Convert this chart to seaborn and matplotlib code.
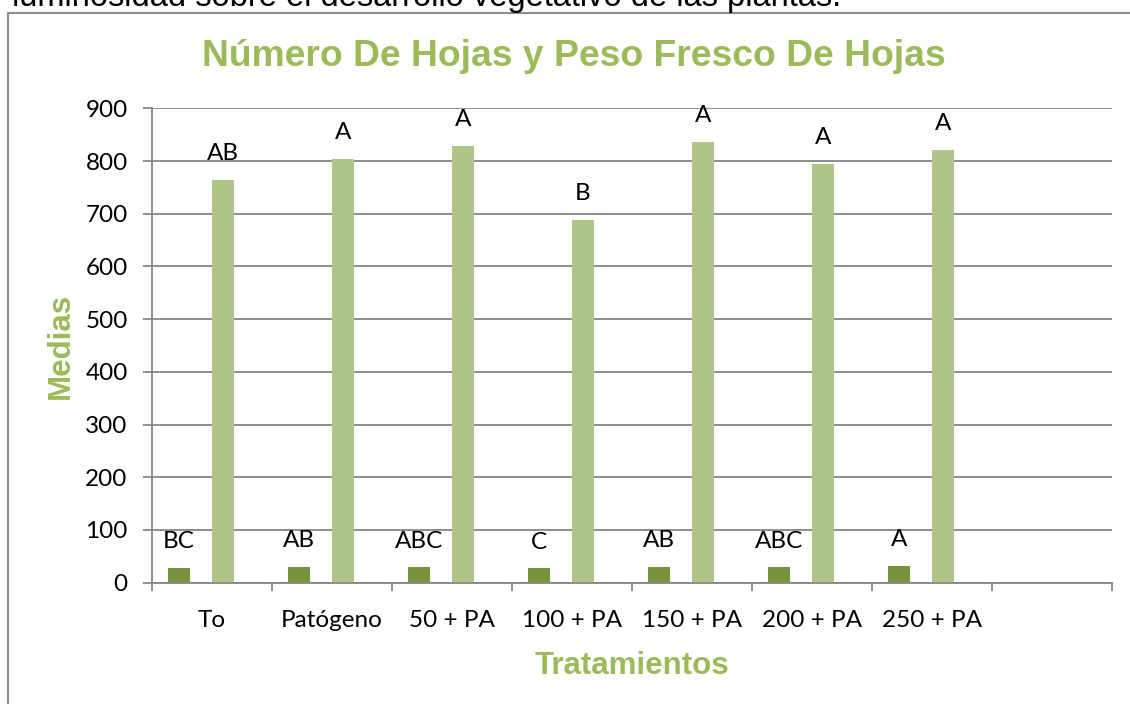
import numpy as np
import pandas as pd
import matplotlib
matplotlib.use("Agg")
import matplotlib.pyplot as plt
import seaborn as sns

# Datos
tratamientos = ["To", "Patógeno", "50 + PA", "100 + PA", "150 + PA", "200 + PA", "250 + PA"]
numero_hojas = [28, 30, 29, 27, 30, 29, 31]
peso_fresco = [764, 804, 829, 688, 837, 795, 821]
letras_hojas = ["BC", "AB", "ABC", "C", "AB", "ABC", "A"]
letras_peso = ["AB", "A", "A", "B", "A", "A", "A"]

# series vacias que en el original ocupan hueco dentro de cada grupo
series = ["Número de hojas", "vacia1", "Peso fresco", "vacia2"]

df = pd.concat([
    pd.DataFrame({"Tratamiento": tratamientos, "Serie": series[0], "Valor": numero_hojas}),
    pd.DataFrame({"Tratamiento": tratamientos, "Serie": series[1], "Valor": np.nan}),
    pd.DataFrame({"Tratamiento": tratamientos, "Serie": series[2], "Valor": peso_fresco}),
    pd.DataFrame({"Tratamiento": tratamientos, "Serie": series[3], "Valor": np.nan}),
], ignore_index=True)

verde = "#9BBB59"
verde_osc = "#77933C"
verde_cla = "#ADC687"
gris = "#868686"

sns.set_theme(style="white")
plt.rcParams["font.family"] = ["Lato", "DejaVu Sans"]

fig = plt.figure(figsize=(11.3, 7.04), dpi=100)
ax = fig.add_axes([152 / 1130, 1 - 582.7 / 704, 960 / 1130, (582.7 - 108.3) / 704])

sns.barplot(data=df, x="Tratamiento", y="Valor", hue="Serie", hue_order=series,
            order=tratamientos, palette=[verde_osc, "white", verde_cla, "white"],
            width=88 / 120, errorbar=None, legend=False, ax=ax,
            edgecolor="none", linewidth=0, saturation=1)

ax.set_xlim(-0.5, 7.5)
ax.set_ylim(0, 900)
ax.set_yticks(range(0, 1000, 100))
ax.yaxis.grid(True, color=gris, linewidth=1.3)
ax.set_axisbelow(True)

for s in ["top", "right"]:
    ax.spines[s].set_visible(False)
for s in ["left", "bottom"]:
    ax.spines[s].set_color(gris)
    ax.spines[s].set_linewidth(1.3)

ax.set_xticks(range(len(tratamientos)))
ax.set_xticklabels(tratamientos)
ax.set_xticks(np.arange(-0.5, 8.0, 1), minor=True)
ax.tick_params(axis="x", which="major", length=0, pad=20, labelsize=17.5, labelcolor="black")
ax.tick_params(axis="x", which="minor", length=6, width=1.3, color=gris, direction="out", bottom=True)
ax.tick_params(axis="y", length=6.5, width=1.3, color=gris, left=True, pad=11, labelsize=17.5, labelcolor="black")

ax.set_xlabel("Tratamientos", fontsize=22.5, fontweight="bold", color=verde,
              family="Liberation Sans", labelpad=14)
ax.set_ylabel("Medias", fontsize=22.5, fontweight="bold", color=verde,
              family="Liberation Sans", labelpad=7)

# letras de significancia
conts = [c for c in ax.containers if any(np.isfinite(b.get_height()) for b in c)]
for cont, letras in zip(conts, [letras_hojas, letras_peso]):
    for bar, letra in zip(cont, letras):
        ax.annotate(letra, (bar.get_x() + bar.get_width() / 2, bar.get_height()),
                    xytext=(0, 19), textcoords="offset points",
                    ha="center", va="center", fontsize=17.5, color="black")

fig.text(574 / 1130, 1 - 66 / 704, "Número De Hojas y Peso Fresco De Hojas",
         ha="center", va="baseline", fontsize=26.8, fontweight="bold", color=verde,
         family="Liberation Sans")

# texto del documento cortado arriba
fig.text(12 / 1130, 1 - 6 / 704, "luminosidad sobre el desarrollo vegetativo de las plantas.",
         ha="left", va="baseline", fontsize=23.5, color="black", family="Liberation Sans")

# marco del grafico
marco = plt.Rectangle((7.5 / 1130, -0.1), 1.5, 0.1 + 1 - 13 / 704, transform=fig.transFigure,
                      fill=False, edgecolor="#8C8C8C", linewidth=1.5)
fig.add_artist(marco)

fig.savefig("out.png", dpi=100)
